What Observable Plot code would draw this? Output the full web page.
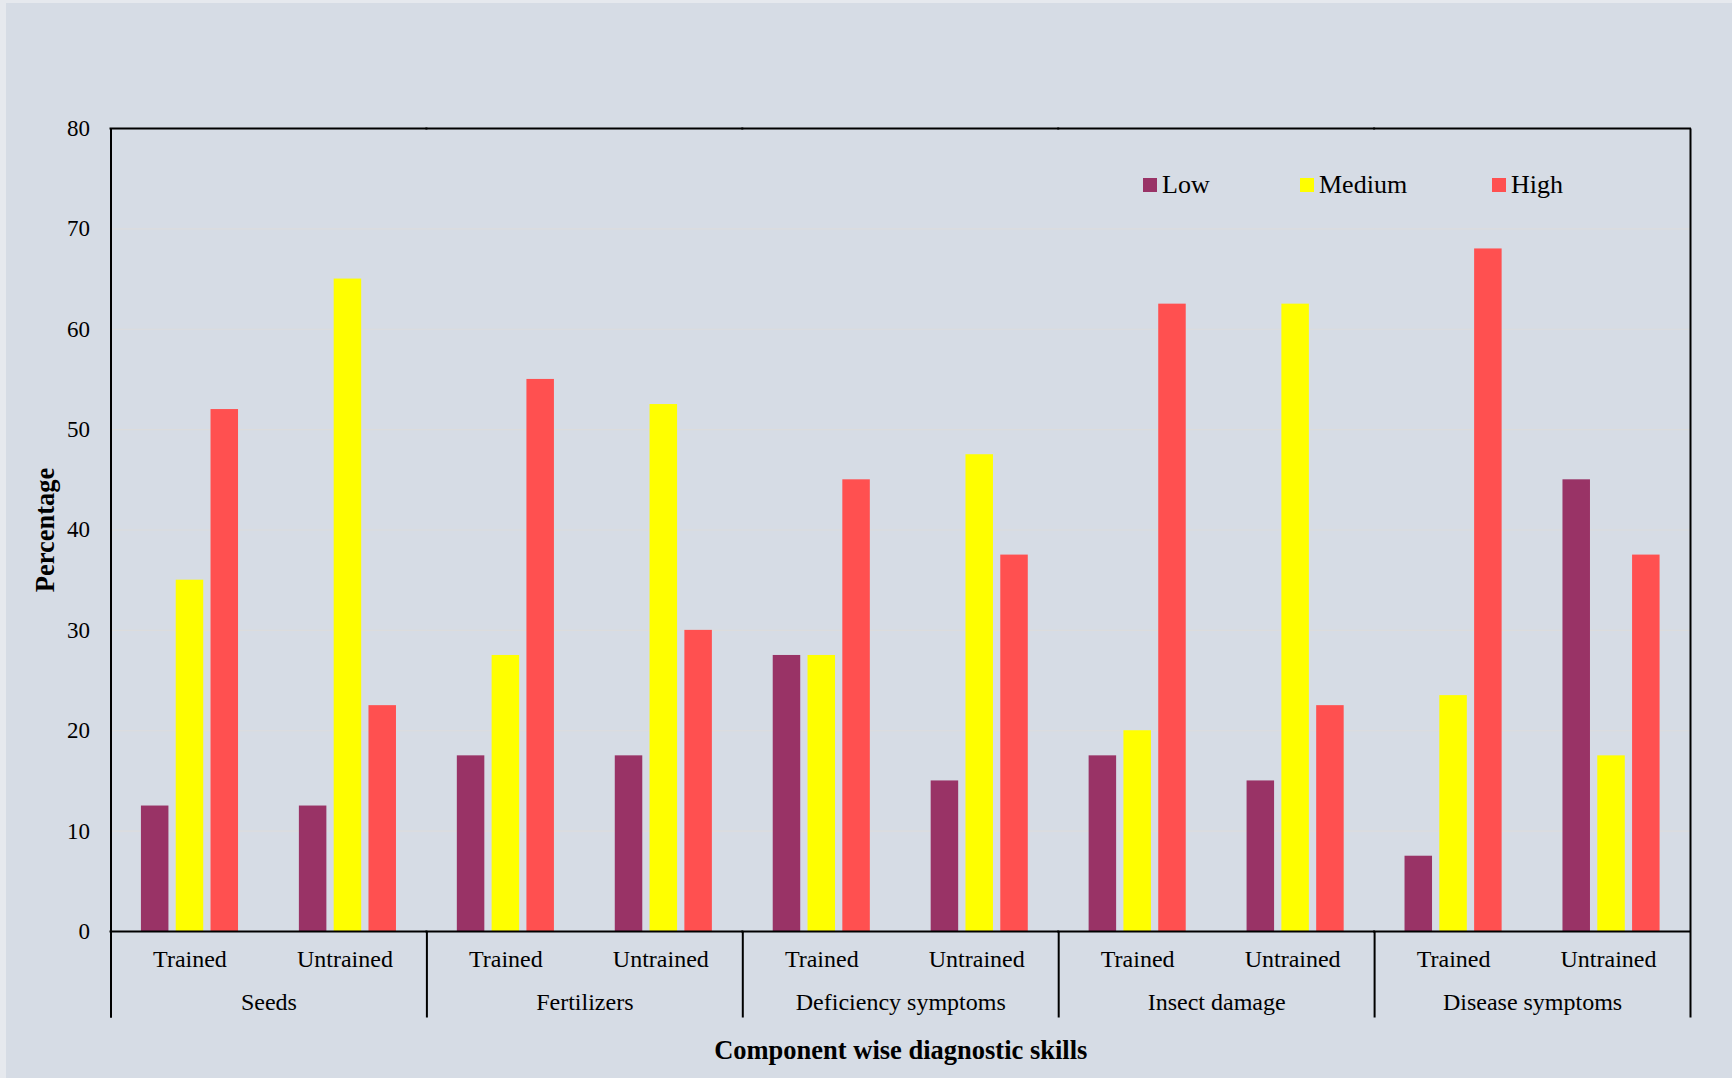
<!DOCTYPE html>
<html>
<head>
<meta charset="utf-8">
<script src="https://cdn.jsdelivr.net/npm/d3@7"></script>
<script src="https://cdn.jsdelivr.net/npm/@observablehq/plot@0.6"></script>
<style>
  html, body { margin: 0; padding: 0; background: #d6dce5; }
  #wrap { position: relative; width: 1732px; height: 1078px; background: #d6dce5; overflow: hidden; }
  #wrap::after { content: ""; position: absolute; inset: 0; box-shadow: inset 6px 3px 0 #e6e9ee; pointer-events: none; }
  #wrap svg { position: absolute; left: 0; top: 0; }
  g[aria-label="fx-axis label"] text, g[aria-label="y-axis label"] text { font-weight: bold; font-size: 26.5px; }
  #legend { position: absolute; left: 1143px; top: 170px; height: 30px; display: flex; align-items: center;
            font-family: "Liberation Serif", "Times New Roman", serif; font-size: 26px; color: #000; }
  #legend .item { display: flex; align-items: center; }
  #legend .sw { width: 14px; height: 14px; margin-right: 5px; }
</style>
</head>
<body>
<div id="wrap"></div>
<script>
// ---- data ----
const groups = ["Seeds", "Fertilizers", "Deficiency symptoms", "Insect damage", "Disease symptoms"];
const subs = ["Trained", "Untrained"];
const levels = ["Low", "Medium", "High"];
const levelColors = ["#993366", "#ffff00", "#ff5050"];
// values in order: Seeds-Trained, Seeds-Untrained, Fertilizers-Trained, ...
const lowValues    = [12.5, 12.5, 17.5, 17.5, 27.5, 15,   17.5, 15,   7.5,  45];
const mediumValues = [35,   65,   27.5, 52.5, 27.5, 47.5, 20,   62.5, 23.5, 17.5];
const highValues   = [52,   22.5, 55,   30,   45,   37.5, 62.5, 22.5, 68,   37.5];
const yTicks = [0, 10, 20, 30, 40, 50, 60, 70, 80];
const legendWidths = [157, 192, null];

// ---- table ----
const seriesValues = [lowValues, mediumValues, highValues];
const rows = [];
groups.forEach((g, gi) => subs.forEach((s, si) => levels.forEach((lv, li) => {
  rows.push({group: g, sub: s, level: lv, value: seriesValues[li][gi * 2 + si]});
})));

const W = 1732, H = 1078;
const mTop = 128, mBottom = 147, mLeft = 110.5, mRight = 42;
const innerH = H - mTop - mBottom;
const subW = (W - mLeft - mRight) / (groups.length * subs.length);
const barW = 27.5, barStep = 34.8;
const inset = (subW - barW) / 2;
const lineExt = -86;
const lineStyle = {stroke: "#000", strokeWidth: 2, strokeLinecap: "square"};

const barMarks = levels.map((lv, i) =>
  Plot.barY(rows.filter(d => d.level === lv), {
    fx: "group", x: "sub", y: "value", fill: "level",
    dx: (i - 1) * barStep, insetLeft: inset, insetRight: inset
  })
);

const chart = Plot.plot({
  width: W, height: H,
  marginTop: mTop, marginBottom: mBottom, marginLeft: mLeft, marginRight: mRight,
  style: {background: "transparent", fontFamily: "'Liberation Serif', 'Times New Roman', serif", color: "#000"},
  fx: {domain: groups, padding: 0, round: false},
  x: {domain: subs, padding: 0, round: false},
  y: {domain: [0, 80]},
  color: {domain: levels, range: levelColors},
  marks: [
    Plot.gridY(yTicks, {stroke: "#dcdcdc", strokeOpacity: 1, strokeWidth: 1.2}),
    ...barMarks,
    Plot.ruleY([0], lineStyle),
    Plot.ruleY([80], lineStyle),
    Plot.frame({anchor: "left", facetAnchor: "left", ...lineStyle, strokeLinecap: "butt", insetBottom: lineExt}),
    Plot.frame({anchor: "right", facetAnchor: "right", ...lineStyle, strokeLinecap: "butt", insetBottom: lineExt}),
    Plot.frame({anchor: "left", ...lineStyle, strokeLinecap: "butt", insetTop: innerH, insetBottom: lineExt}),
    Plot.axisY(yTicks, {anchor: "left", tickSize: 0, tickPadding: 21, fontSize: 23,
      label: "Percentage", labelAnchor: "center", labelOffset: 76, labelArrow: "none"}),
    Plot.axisX([subs[0]], {anchor: "bottom", tickSize: 0, tickPadding: 18, fontSize: 24, label: null}),
    Plot.axisX([subs[1]], {anchor: "bottom", tickSize: 0, tickPadding: 18, fontSize: 24, label: null, dx: -3}),
    Plot.axisFx({anchor: "bottom", tickSize: 0, tickPadding: 61, fontSize: 24,
      label: "Component wise diagnostic skills", labelAnchor: "center", labelOffset: 127, labelArrow: "none"})
  ]
});

const wrap = document.getElementById("wrap");
wrap.appendChild(chart);

// legend
const legend = document.createElement("div");
legend.id = "legend";
levels.forEach((lv, i) => {
  const item = document.createElement("div");
  item.className = "item";
  if (legendWidths[i]) item.style.width = legendWidths[i] + "px";
  const sw = document.createElement("div");
  sw.className = "sw";
  sw.style.background = levelColors[i];
  const tx = document.createElement("span");
  tx.textContent = lv;
  item.appendChild(sw); item.appendChild(tx);
  legend.appendChild(item);
});
wrap.appendChild(legend);
</script>
</body>
</html>
